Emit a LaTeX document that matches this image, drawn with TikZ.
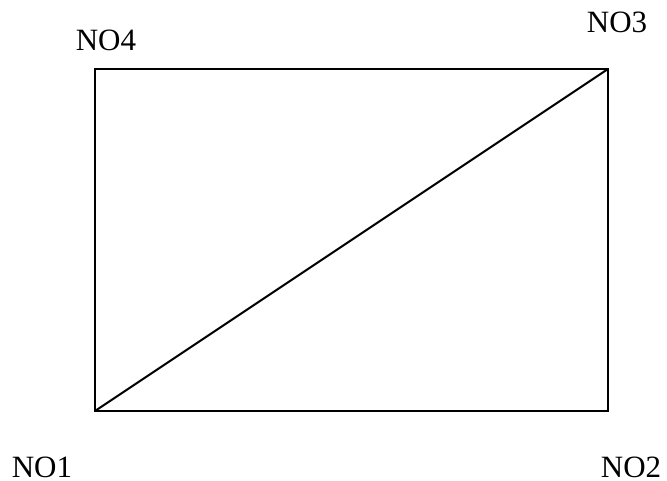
\documentclass[tikz,border=0pt]{standalone}
\usepackage{fontspec}
\setmainfont{Liberation Serif}
\begin{document}
\begin{tikzpicture}[x=1pt,y=-1pt,
  lbl/.style={anchor=base,inner sep=0pt,font=\fontsize{31}{33}\selectfont},
  edge/.style={line width=2pt}]
\useasboundingbox (0,0) rectangle (667,481);
\coordinate (p1) at (95,411);
\coordinate (p2) at (608,411);
\coordinate (p3) at (608,69);
\coordinate (p4) at (95,69);
\draw[edge] (p1) -- (p2) -- (p3) -- (p4) -- cycle;
\draw[edge] (p1) -- (p3);
\node[lbl] (n4) at (106,51) {NO4};
\node[lbl] (n3) at (617,33) {NO3};
\node[lbl] (n1) at (42,477) {NO1};
\node[lbl] (n2) at (631,477) {NO2};
\end{tikzpicture}
\end{document}
